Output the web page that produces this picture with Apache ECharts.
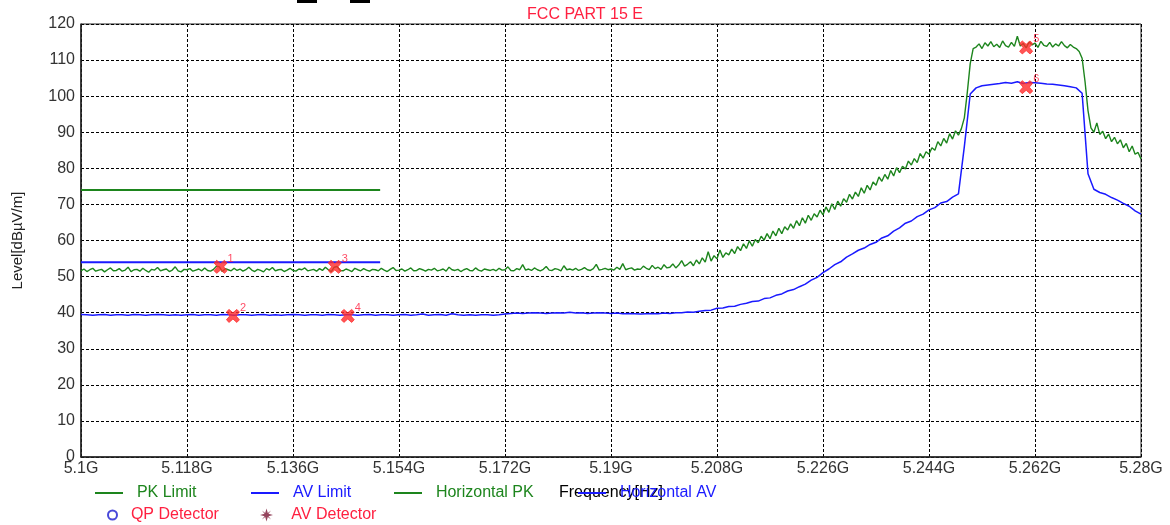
<!DOCTYPE html>
<html>
<head>
<meta charset="utf-8">
<script src="https://cdn.jsdelivr.net/npm/echarts@6/dist/echarts.min.js"></script>
<style>
html,body{margin:0;padding:0;background:#fff;}
#chart{width:1170px;height:525px;}
</style>
</head>
<body>
<div id="chart"></div>
<script>
// ---------- DATA ----------
const titleText = 'FCC PART 15 E';
const startMHz = 5100;             // left edge of the sweep (5.1 GHz)
const xTickLabels = ['5.1G','5.118G','5.136G','5.154G','5.172G','5.19G','5.208G','5.226G','5.244G','5.262G','5.28G'];
const yTickLabels = ['0','10','20','30','40','50','60','70','80','90','100','110','120'];

// Horizontal PK trace, one value every 0.5 MHz from 5.1 GHz to 5.28 GHz
const pkStepMHz = 0.5;
const horizontalPK = [
 51.6,52.1,51.4,51.9,52.3,51.5,51.8,52.0,51.3,51.9,52.4,51.6,51.7,52.2,51.5,51.8,52.6,51.4,51.9,52.0,
 51.5,52.3,51.7,51.2,52.0,51.8,52.5,51.6,51.9,52.1,51.4,51.8,52.7,51.6,51.3,52.0,51.9,52.2,51.5,51.8,
 52.1,51.6,52.4,51.7,51.5,52.0,52.9,52.7,51.4,52.2,51.9,51.6,52.3,51.7,52.1,51.5,51.9,52.6,51.8,51.4,
 52.0,51.7,51.3,52.2,51.8,52.5,51.6,51.9,52.0,51.4,51.8,52.3,51.7,51.5,52.1,51.9,52.4,51.6,51.8,52.0,
 51.5,52.2,51.7,52.6,51.9,51.4,52.6,52.8,51.7,51.6,52.1,51.8,51.4,52.3,51.9,51.6,52.2,51.8,51.5,52.0,
 51.9,51.6,52.3,51.8,51.4,52.0,52.5,51.7,51.8,52.1,51.5,51.9,52.4,51.6,51.7,52.2,51.9,51.5,52.0,51.8,
 52.3,51.6,51.8,52.1,51.5,52.6,51.9,51.7,52.0,51.4,51.9,52.2,51.7,51.6,52.4,51.8,51.5,52.1,51.9,51.7,
 52.0,51.6,52.3,51.8,51.9,52.7,51.7,51.6,52.2,51.9,53.3,51.8,52.1,51.7,52.4,51.9,51.6,52.0,52.8,51.8,
 51.7,52.2,52.0,51.6,53.0,51.9,52.1,51.8,52.3,51.7,52.0,52.5,51.9,51.7,52.2,53.4,51.8,52.0,52.3,51.9,
 52.1,51.8,52.6,52.0,53.6,51.9,52.2,52.4,51.8,52.1,
 52.0,52.9,52.3,51.9,53.1,52.2,52.6,52.0,53.3,52.4,
 52.6,53.5,52.4,53.2,54.4,52.9,53.4,54.1,53.0,54.6,
 53.5,55.2,54.0,56.9,54.3,55.8,54.9,57.4,55.3,56.6,
 56.0,57.6,56.4,58.3,57.2,59.1,57.8,59.9,58.4,60.3,
 59.4,61.2,60.1,61.9,60.5,62.6,61.3,63.4,61.9,63.8,
 62.9,64.6,63.4,65.5,64.1,66.3,64.8,67.0,65.6,67.4,
 66.5,68.4,67.1,69.3,67.8,70.2,68.6,70.9,69.5,71.6,
 70.6,72.8,71.5,73.4,72.2,74.6,73.1,75.3,74.0,76.2,
 75.3,77.6,76.4,78.3,77.0,79.4,77.9,80.2,78.8,80.6,
 79.8,82.0,80.9,82.7,81.6,84.1,82.8,84.6,83.9,85.7,
 85.0,87.4,86.2,88.3,87.0,89.6,88.1,90.4,89.2,91.0,
 94.0,101.0,109.0,113.2,
 113.6,114.5,113.2,114.8,113.9,115.1,113.7,114.4,113.5,115.3,
 114.0,113.6,114.9,113.8,116.6,113.9,114.6,113.4,115.0,114.2,
 114.7,113.5,115.2,114.1,113.8,114.9,113.6,114.5,113.9,115.1,
 114.0,113.4,114.3,113.6,
 113.2,112.4,110.5,104.0,96.0,91.2,
 90.0,92.6,89.4,90.3,88.2,89.5,87.4,88.6,86.8,87.9,85.7,86.9,84.6,86.2,83.9,84.4,82.6
];

// Horizontal AV trace, one value every 1 MHz from 5.1 GHz to 5.28 GHz
const avStepMHz = 1;
const horizontalAV = [
 39.5,39.4,39.3,39.4,39.5,39.3,39.4,39.4,39.3,39.5,
 39.4,39.3,39.4,39.5,39.4,39.3,39.4,39.3,39.4,39.5,
 39.3,39.4,39.4,39.3,39.5,39.4,39.3,39.4,39.4,39.3,
 39.4,39.5,39.3,39.4,39.3,39.4,39.5,39.4,39.3,39.4,
 39.4,39.3,39.5,39.4,39.3,39.4,39.4,39.3,39.4,39.5,
 39.3,39.4,39.4,39.3,39.4,39.5,39.3,39.4,39.6,39.3,
 39.4,39.5,39.3,39.7,39.4,39.3,39.4,39.3,39.4,39.4,
 39.3,39.4,39.6,39.8,39.9,39.8,39.9,40.0,39.9,39.8,
 39.9,40.0,39.9,40.1,39.9,40.0,39.8,39.9,40.0,39.9,
 39.8,39.9,39.7,39.8,39.7,
 39.6,39.7,39.8,39.7,39.9,39.8,40.0,40.0,40.2,40.1,
 40.4,40.6,40.7,41.2,41.3,41.7,41.8,42.3,42.6,43.1,
 43.2,43.9,44.1,44.8,45.2,46.0,46.4,47.2,47.9,49.0,
 49.8,51.1,52.1,53.3,54.1,55.4,56.3,57.3,57.9,58.9,
 59.5,60.7,61.3,62.6,63.5,64.8,65.4,66.6,67.3,68.5,
 69.1,70.4,70.8,72.0,72.9,
 86.0,100.6,102.3,102.9,103.1,103.3,103.5,103.8,103.6,104.0,
 103.5,103.8,103.7,103.6,103.4,103.3,103.1,102.9,102.6,102.3,
 100.8,78.5,74.2,73.3,72.8,71.9,71.2,70.3,69.5,68.2,67.3
];

// Limit lines: [frequency in MHz, level]
const pkLimit = [[5100, 74], [5150.8, 74]];
const avLimit = [[5100, 54], [5150.8, 54]];

// Detector markers: [frequency MHz, level, label]
const markers = [
 [5123.7, 52.7, '1'],
 [5125.8, 39.1, '2'],
 [5143.1, 52.7, '3'],
 [5145.3, 39.1, '4'],
 [5260.5, 113.5, '5'],
 [5260.5, 102.5, '6']
];

// ---------- CHART ----------
const GREEN = '#1d851d';
const BLUE = '#1a1aff';
const RED = '#ff2040';
const FONT = 'Liberation Sans, Arial, sans-serif';

const pkData = horizontalPK.map((v, i) => [i * pkStepMHz, v]);
const avData = horizontalAV.map((v, i) => [i * avStepMHz, v]);
const off = a => a.map(p => [p[0] - startMHz, p[1]]);

const chart = echarts.init(document.getElementById('chart'), null, {renderer: 'canvas'});

function legendBox(left, top, name, color, icon, w, h, spaces, itemStyle) {
  const item = {name: name, textStyle: {color: color}};
  if (itemStyle) item.itemStyle = itemStyle;
  return {
    left: left, top: top, padding: 0, selectedMode: false,
    icon: icon, itemWidth: w, itemHeight: h,
    formatter: n => spaces + n,
    textStyle: {fontSize: 16, fontFamily: FONT},
    data: [item]
  };
}

const option = {
  animation: false,
  backgroundColor: '#fff',
  title: {
    text: titleText, left: 'center', top: 7, padding: 0,
    textStyle: {color: RED, fontSize: 16, fontWeight: 'normal', fontFamily: FONT}
  },
  grid: {left: 81, right: 29, top: 24, bottom: 68, show: true, borderColor: '#222', borderWidth: 1, backgroundColor: 'transparent'},
  legend: [
    legendBox(95, 485, 'PK Limit', GREEN, 'rect', 28, 2, '  '),
    legendBox(251, 485, 'AV Limit', BLUE, 'rect', 28, 2, '  '),
    legendBox(394, 485, 'Horizontal PK', GREEN, 'rect', 28, 2, '  '),
    legendBox(578, 485, 'Horizontal AV', BLUE, 'rect', 28, 2, '  '),
    legendBox(107, 507, 'QP Detector', RED, 'circle', 9, 9, '  ', {color: '#fff', borderColor: '#1a1ad0', borderWidth: 2}),
    legendBox(260, 507, 'AV Detector', RED, 'path://M5,0 L6,3.5 L8.5,1.5 L6.5,4 L10,5 L6.5,6 L8.5,8.5 L6,6.5 L5,10 L4,6.5 L1.5,8.5 L3.5,6 L0,5 L3.5,4 L1.5,1.5 L4,3.5 Z', 13, 13, '   ')
  ],
  xAxis: {
    type: 'value', min: 0, max: 180, interval: 18,
    name: 'Frequency[Hz]', nameLocation: 'middle', nameGap: 28,
    nameTextStyle: {color: '#000', fontSize: 16, fontFamily: FONT},
    axisLine: {show: true, lineStyle: {color: '#222', width: 1.5}},
    axisTick: {show: false},
    axisLabel: {
      color: '#333', fontSize: 16, fontFamily: FONT, margin: 4,
      formatter: v => xTickLabels[Math.round(v / 18)]
    },
    splitLine: {show: true, lineStyle: {color: '#000', type: [3, 2], width: 1}}
  },
  yAxis: {
    type: 'value', min: 0, max: 120, interval: 10,
    name: 'Level[dB\u00B5V/m]', nameLocation: 'middle', nameGap: 56,
    nameTextStyle: {color: '#222', fontSize: 15, fontFamily: FONT},
    axisLine: {show: true, lineStyle: {color: '#222', width: 1.5}},
    axisTick: {show: false},
    axisLabel: {
      color: '#333', fontSize: 16, fontFamily: FONT, margin: 6,
      formatter: v => yTickLabels[Math.round(v / 10)]
    },
    splitLine: {show: true, lineStyle: {color: '#000', type: [3, 2], width: 1}}
  },
  graphic: [
    {type: 'rect', left: 297, top: 0, shape: {width: 20, height: 3}, style: {fill: '#000'}},
    {type: 'rect', left: 350, top: 0, shape: {width: 20, height: 3}, style: {fill: '#000'}}
  ],
  series: [
    {name: 'PK Limit', type: 'line', data: off(pkLimit), showSymbol: false, symbol: 'none',
     lineStyle: {color: GREEN, width: 2}, itemStyle: {color: GREEN}, z: 3},
    {name: 'AV Limit', type: 'line', data: off(avLimit), showSymbol: false, symbol: 'none',
     lineStyle: {color: BLUE, width: 2}, itemStyle: {color: BLUE}, z: 3},
    {name: 'Horizontal PK', type: 'line', data: pkData, showSymbol: false, symbol: 'none',
     lineStyle: {color: GREEN, width: 1.4}, itemStyle: {color: GREEN}, z: 2},
    {name: 'Horizontal AV', type: 'line', data: avData, showSymbol: false, symbol: 'none',
     lineStyle: {color: BLUE, width: 1.5}, itemStyle: {color: BLUE}, z: 2},
    {name: 'QP Detector', type: 'scatter', data: [], itemStyle: {color: '#fff', borderColor: '#1a1ad0', borderWidth: 2}},
    {name: 'AV Detector', type: 'scatter', data: [], itemStyle: {color: '#7a1535'}},
    {name: 'markers', type: 'scatter', z: 5,
     data: markers.map(m => ({value: [m[0] - startMHz, m[1]], label: m[2]})),
     symbol: 'path://M2,0 L5,2.6 L8,0 L10,2 L7.4,5 L10,8 L8,10 L5,7.4 L2,10 L0,8 L2.6,5 L0,2 Z',
     symbolSize: 13,
     itemStyle: {color: '#ff2a2a', borderColor: '#ff3030', borderWidth: 1},
     label: {show: true, position: 'right', distance: 0, offset: [0, -8],
       color: RED, fontSize: 11, fontFamily: FONT,
       formatter: p => p.data.label}
    }
  ]
};
chart.setOption(option);
</script>
</body>
</html>
